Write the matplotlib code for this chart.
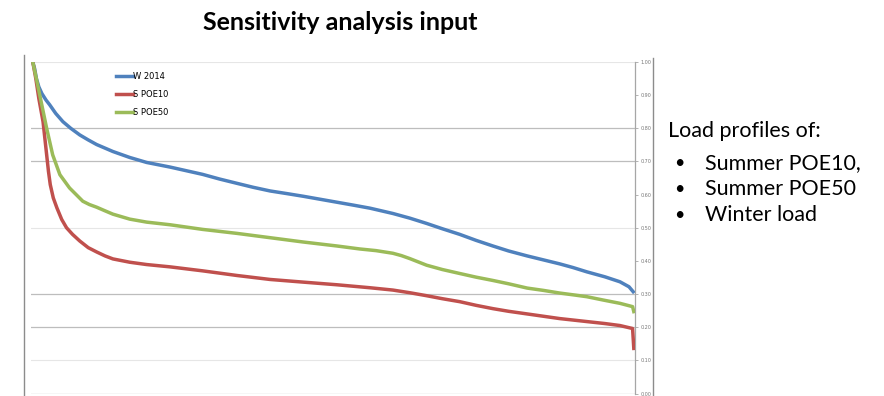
import matplotlib.pyplot as plt
from matplotlib.lines import Line2D

# load duration curves, x = % of time, y = per-unit load
w2014_x = [0, 0.3, 0.6, 1.0, 1.5, 2.2, 2.8, 3.8, 5.0, 6.3, 7.8, 9.2, 10.6, 13.3, 16.1, 18.9,
           22.8, 25.5, 28.2, 31.0, 33.9, 36.6, 39.4, 42.2, 44.9, 47.7, 50.5, 53.3, 56.0, 59.8,
           62.6, 65.4, 68.0, 70.9, 73.6, 76.4, 79.0, 82.1, 84.8, 87.5, 89.7, 92.0, 95.0, 97.5,
           99.0, 99.7]
w2014_y = [1.0, 0.98, 0.95, 0.925, 0.905, 0.885, 0.871, 0.845, 0.82, 0.80, 0.78, 0.765, 0.751,
           0.73, 0.712, 0.697, 0.683, 0.672, 0.661, 0.647, 0.634, 0.622, 0.611, 0.603, 0.595,
           0.586, 0.577, 0.568, 0.559, 0.543, 0.529, 0.513, 0.497, 0.480, 0.462, 0.445, 0.430,
           0.415, 0.403, 0.391, 0.380, 0.367, 0.352, 0.337, 0.322, 0.307]

poe10_x = [0, 0.5, 1.0, 1.7, 2.3, 2.6, 2.9, 3.4, 4.0, 4.8, 5.6, 6.6, 7.8, 9.2, 10.6, 12.0,
           13.3, 16.1, 18.9, 22.8, 28.2, 33.9, 39.4, 44.9, 50.5, 56.0, 59.8, 62.6, 65.4, 68.0,
           70.9, 73.6, 76.4, 79.0, 82.1, 84.8, 87.5, 90.0, 92.0, 95.0, 97.5, 99.6, 99.8]
poe10_y = [1.0, 0.95, 0.89, 0.82, 0.72, 0.67, 0.63, 0.59, 0.56, 0.525, 0.50, 0.48, 0.46, 0.44,
           0.427, 0.415, 0.406, 0.396, 0.389, 0.382, 0.370, 0.356, 0.344, 0.336, 0.328, 0.319,
           0.312, 0.304, 0.295, 0.286, 0.277, 0.266, 0.256, 0.248, 0.240, 0.233, 0.226, 0.221,
           0.217, 0.211, 0.205, 0.196, 0.136]

poe50_x = [0, 0.7, 1.5, 2.3, 2.8, 3.3, 3.9, 4.5, 5.3, 6.1, 7.2, 8.3, 9.4, 10.6, 12.0, 13.3,
           16.1, 18.9, 22.8, 28.2, 33.9, 39.4, 44.9, 50.5, 54.3, 57.0, 59.8, 61.2, 62.6, 64.0,
           65.4, 68.0, 70.9, 73.6, 76.4, 79.0, 82.1, 84.8, 87.5, 90.0, 92.0, 94.7, 97.5, 99.6, 99.8]
poe50_y = [1.0, 0.94, 0.87, 0.80, 0.76, 0.72, 0.69, 0.66, 0.64, 0.62, 0.60, 0.58, 0.57, 0.562,
           0.551, 0.541, 0.526, 0.517, 0.509, 0.495, 0.483, 0.470, 0.457, 0.445, 0.436, 0.431,
           0.423, 0.416, 0.407, 0.397, 0.387, 0.374, 0.362, 0.351, 0.341, 0.331, 0.318, 0.311,
           0.303, 0.297, 0.292, 0.282, 0.272, 0.262, 0.247]

y_ticks = [0.0, 0.1, 0.2, 0.3, 0.4, 0.5, 0.6, 0.7, 0.8, 0.9, 1.0]
bullets = ["Summer POE10,", "Summer POE50", "Winter load"]

W, H = 884, 396
fig = plt.figure(figsize=(W / 100, H / 100), dpi=100)
ax = fig.add_axes([31 / W, 2.5 / H, (635 - 31) / W, (393.5 - 62) / H])

# gridlines (only the ones that survive in the reference image)
grid_dark = [0.0, 0.2, 0.3, 0.7, 0.8]
grid_light = [0.1, 0.5, 1.0]
for g in grid_dark:
    ax.axhline(g, color="#bdbdbd", lw=0.9, zorder=1)
for g in grid_light:
    ax.axhline(g, color="#e6e6e6", lw=0.8, zorder=1)

ax.plot(w2014_x, w2014_y, color="#4f81bd", lw=2.5, label="W 2014", zorder=3)
ax.plot(poe10_x, poe10_y, color="#c0504d", lw=2.5, label="S POE10", zorder=3)
ax.plot(poe50_x, poe50_y, color="#9bbb59", lw=2.5, label="S POE50", zorder=3)

ax.set_xlim(-0.3, 100)
ax.set_ylim(0, 1.0)
ax.set_xticks([])
for s in ["left", "top", "bottom"]:
    ax.spines[s].set_visible(False)
ax.spines["right"].set_color("#a6a6a6")
ax.spines["right"].set_linewidth(0.9)
ax.yaxis.tick_right()
ax.set_yticks(y_ticks)
ax.set_yticklabels([f"{t:.2f}" for t in y_ticks])
ax.tick_params(axis="y", length=2, width=0.6, color="#a6a6a6",
               labelsize=3.5, labelcolor="#777777", pad=2)

ax.legend(loc="upper left", bbox_to_anchor=(0.135, 0.98), frameon=False,
          fontsize=6, handlelength=2.0, handletextpad=0.1,
          labelspacing=1.1, borderaxespad=0)

# outer chart border lines
fig.add_artist(Line2D([24 / W, 24 / W], [0, 1 - 55 / H], color="#8c8c8c", lw=1.0))
fig.add_artist(Line2D([653 / W, 653 / W], [0, 1 - 58 / H], color="#8c8c8c", lw=1.0))

fig.text(340 / W, 1 - 23 / H, "Sensitivity analysis input", ha="center", va="center",
         fontsize=18, fontweight="bold", family="Lato")

fig.text(668 / W, 1 - 131 / H, "Load profiles of:", ha="left", va="center",
         fontsize=15.5, family="Lato")
for i, b in enumerate(bullets):
    y = 1 - (163 + 26 * i) / H
    fig.text(674 / W, y, "\u2022", ha="left", va="center", fontsize=13, family="Lato")
    fig.text(705 / W, y, b, ha="left", va="center", fontsize=15.5, family="Lato")

fig.savefig("out.png", dpi=100)
